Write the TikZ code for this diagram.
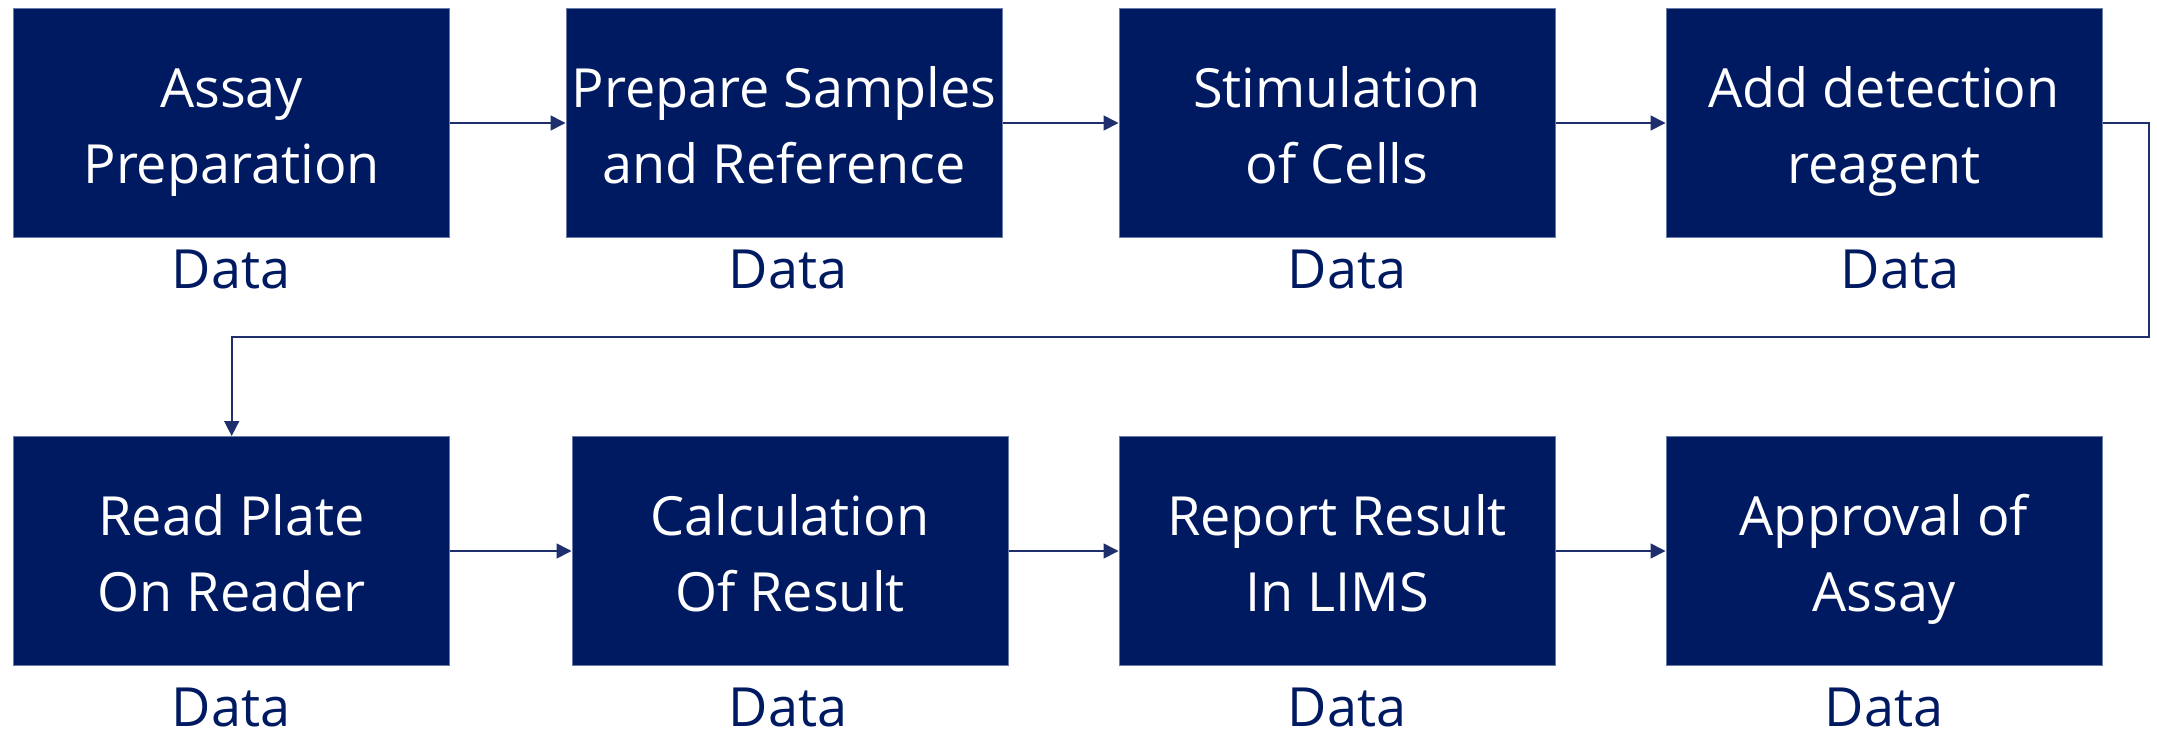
\documentclass[tikz,border=0pt]{standalone}
\usepackage{fontspec}
\setmainfont{Open Sans}
\usetikzlibrary{arrows.meta}
\definecolor{navy}{HTML}{001A62}
\definecolor{edge}{HTML}{6A7BA8}
\definecolor{wire}{HTML}{1F2F6E}
\newcommand{\lnstrut}{\rule[-13pt]{0pt}{70pt}}
\tikzset{
  stepbox/.style={rectangle, fill=navy, draw=edge, line width=1pt, minimum width=436pt, minimum height=229pt, inner sep=0pt, text=white, align=center, font=\fontsize{54}{76}\selectfont},
  datalbl/.style={anchor=base, text=navy, inner sep=0pt, font=\fontsize{54}{76}\selectfont},
  flow/.style={draw=wire, line width=1.6pt, -{Triangle[length=15pt,width=15pt]}}
}
\begin{document}
\begin{tikzpicture}[x=1pt,y=1pt]
\useasboundingbox (0,0) rectangle (2157,-734);
\node[stepbox] (b1) at (231.7,-123) {\lnstrut Assay\\\lnstrut Preparation};
\node[stepbox] (b2) at (784,-123) {\lnstrut Prepare Samples\\\lnstrut and Reference};
\node[stepbox] (b3) at (1337,-123) {\lnstrut Stimulation\\\lnstrut of Cells};
\node[stepbox] (b4) at (1884,-123) {\lnstrut Add detection\\\lnstrut reagent};
\node[stepbox] (b5) at (231.7,-551) {\lnstrut Read Plate\\\lnstrut On Reader};
\node[stepbox] (b6) at (790,-551) {\lnstrut Calculation\\\lnstrut Of Result};
\node[stepbox] (b7) at (1337,-551) {\lnstrut Report Result\\\lnstrut In LIMS};
\node[stepbox] (b8) at (1884,-551) {\lnstrut Approval of\\\lnstrut Assay};
\node[datalbl] (d1) at (231,-288) {Data};
\node[datalbl] (d2) at (788,-288) {Data};
\node[datalbl] (d3) at (1347,-288) {Data};
\node[datalbl] (d4) at (1900,-288) {Data};
\node[datalbl] (d5) at (231,-726) {Data};
\node[datalbl] (d6) at (788,-726) {Data};
\node[datalbl] (d7) at (1347,-726) {Data};
\node[datalbl] (d8) at (1884,-726) {Data};
\coordinate (c1) at (2149,-123);
\coordinate (c2) at (2149,-337);
\coordinate (c3) at (231.7,-337);
\draw[flow] (b1.east) -- (b2.west);
\draw[flow] (b2.east) -- (b3.west);
\draw[flow] (b3.east) -- (b4.west);
\draw[flow] (b4.east) -- (c1) -- (c2) -- (c3) -- (b5.north);
\draw[flow] (b5.east) -- (b6.west);
\draw[flow] (b6.east) -- (b7.west);
\draw[flow] (b7.east) -- (b8.west);
\end{tikzpicture}
\end{document}
